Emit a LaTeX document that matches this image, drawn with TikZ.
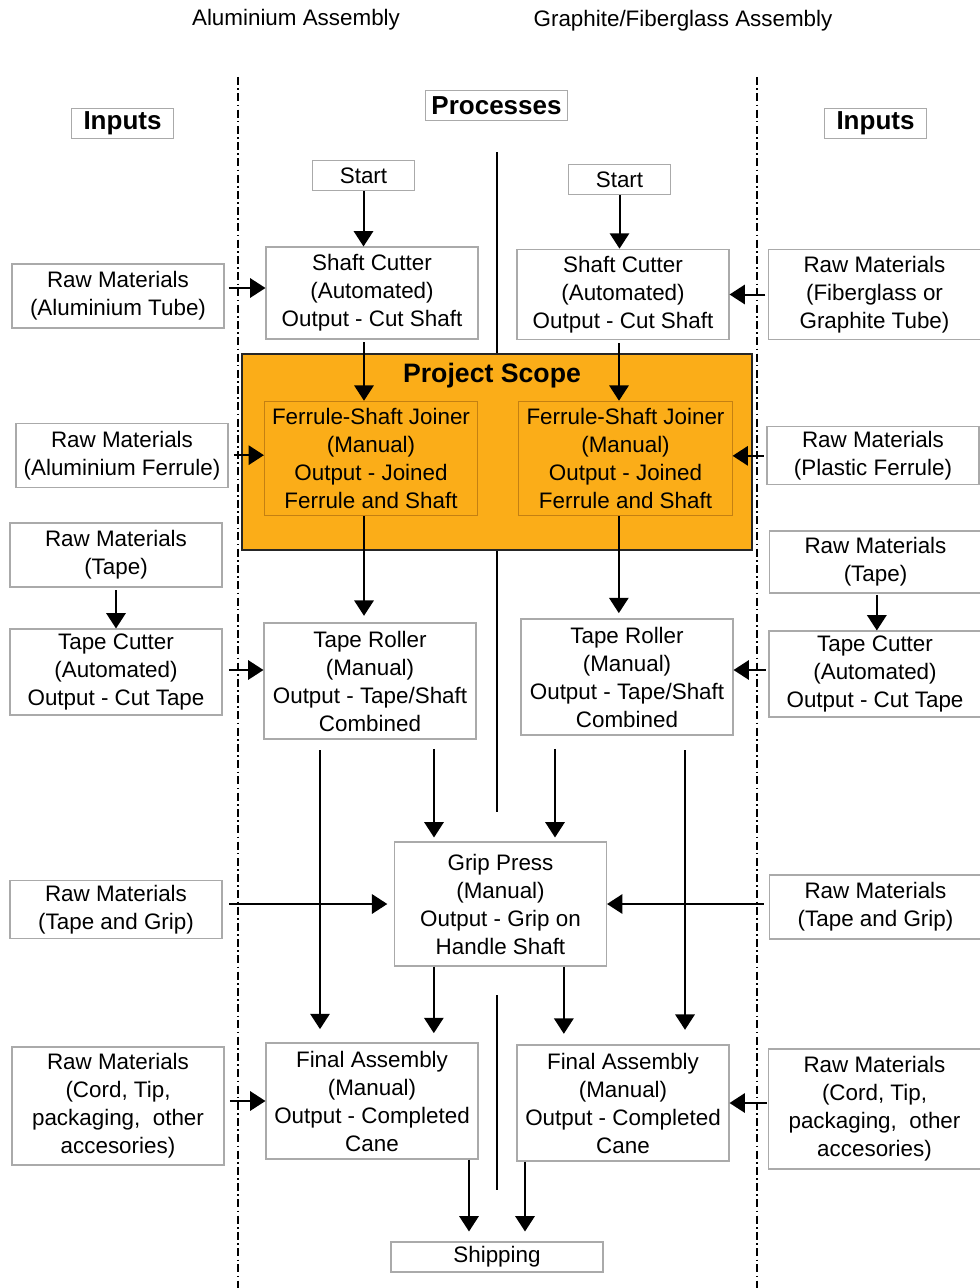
\documentclass[tikz,border=0pt]{standalone}
\usepackage{fontspec}
\setmainfont{Liberation Sans}
\usetikzlibrary{arrows.meta,positioning,calc}

\definecolor{scopefill}{RGB}{251,173,24}
\definecolor{scopeedge}{RGB}{196,128,18}
\definecolor{boxedge}{RGB}{170,170,170}

\begin{document}
\begin{tikzpicture}[
    x=0.75pt, y=-0.75pt,
    every node/.style={font=\fontsize{16.8}{21}\selectfont},
    box/.style={rectangle, draw=boxedge, line width=0.8pt, minimum width=159pt, minimum height=48pt, align=center, inner sep=1pt},
    head/.style={rectangle, draw=boxedge, line width=0.8pt, font=\fontsize{19.5}{22}\selectfont\bfseries, minimum height=23pt, inner sep=0pt},
    stage/.style={rectangle, draw=scopeedge, line width=0.6pt, minimum width=160pt, minimum height=86pt, align=center, inner sep=1pt},
    arrow/.style={-{Triangle[length=11.5pt,width=14.5pt]}, line width=1.5pt},
    divider/.style={dash pattern=on 6pt off 2.5pt on 1.2pt off 2.5pt, line width=0.9pt},
    spine/.style={line width=1.4pt}
]
\useasboundingbox (0,0) rectangle (980,1288);

% Titles
\node (alutitle) at (296,20) {Aluminium Assembly};
\node (gfttitle) at (683,21) {Graphite/Fiberglass Assembly};
\node[head, minimum width=77pt] (inL) at (122.5,123.5) {Inputs};
\node[head, minimum width=77pt] (inR) at (875.5,123.5) {Inputs};
\node[head, minimum width=106pt] (proc) at (496.5,105.5) {Processes};

% Dividers
\draw[divider] (238,77) -- (238,1288);
\draw[divider] (757,77) -- (757,1288);

% Project scope
\node[rectangle, draw=black!85, line width=1.5pt, fill=scopefill, minimum width=382.5pt, minimum height=147pt] (scope) at (497,452) {};
\node[font=\fontsize{20}{22}\selectfont\bfseries] (scopelabel) at (492,376) {Project Scope};

% Centre line
\draw[spine] (497,152) -- (scope.north);
\draw[spine] (scope.south) -- (497,812);
\draw[spine] (497,995) -- (497,1190);

% Processes
\node[box, minimum width=77pt, minimum height=23pt] (startA) at (363.5,175.5) {Start};
\node[box, minimum width=77pt, minimum height=23pt] (startB) at (619.5,179.5) {Start};
\node[box, minimum height=69pt] (cutA) at (372,293) {Shaft Cutter\\(Automated)\\Output - Cut Shaft};
\node[box, minimum height=68pt] (cutB) at (623,294.5) {Shaft Cutter\\(Automated)\\Output - Cut Shaft};
\node[stage] (joinA) at (371,458.5) {Ferrule-Shaft Joiner\\(Manual)\\Output - Joined\\Ferrule and Shaft};
\node[stage] (joinB) at (625.5,458.5) {Ferrule-Shaft Joiner\\(Manual)\\Output - Joined\\Ferrule and Shaft};
\node[box, minimum height=87pt] (rollA) at (370,681) {Tape Roller\\(Manual)\\Output - Tape/Shaft\\Combined};
\node[box, minimum height=87pt] (rollB) at (627,677) {Tape Roller\\(Manual)\\Output - Tape/Shaft\\Combined};
\node[box, minimum height=93pt] (grip) at (500.5,904) {Grip Press\\(Manual)\\Output - Grip on\\Handle Shaft};
\node[box, minimum height=87pt] (finA) at (372,1101) {Final Assembly\\(Manual)\\Output - Completed\\Cane};
\node[box, minimum height=87pt] (finB) at (623,1103) {Final Assembly\\(Manual)\\Output - Completed\\Cane};
\node[box, minimum height=22.5pt] (ship) at (497,1257) {Shipping};

% Inputs, left
\node[box] (rawtube) at (118,296) {Raw Materials\\(Aluminium Tube)};
\node[box] (rawferA) at (122,455.5) {Raw Materials\\(Aluminium Ferrule)};
\node[box] (tapeA) at (116,555) {Raw Materials\\(Tape)};
\node[box, minimum height=64.5pt] (tcutA) at (116,672) {Tape Cutter\\(Automated)\\Output - Cut Tape};
\node[box, minimum height=44pt] (gripA) at (116,909.5) {Raw Materials\\(Tape and Grip)};
\node[box, minimum height=88.5pt] (cordA) at (118,1106) {Raw Materials\\(Cord, Tip,\\packaging,\ \ other\\accesories)};

% Inputs, right
\node[box, minimum height=67pt] (rawgft) at (874.5,294.5) {Raw Materials\\(Fiberglass or\\Graphite Tube)};
\node[box, minimum height=44pt] (rawferB) at (873,455.5) {Raw Materials\\(Plastic Ferrule)};
\node[box, minimum height=46.5pt] (tapeB) at (875.5,562) {Raw Materials\\(Tape)};
\node[box, minimum height=64.5pt] (tcutB) at (875,674) {Tape Cutter\\(Automated)\\Output - Cut Tape};
\node[box] (gripB) at (875.5,907) {Raw Materials\\(Tape and Grip)};
\node[box, minimum height=90pt] (cordB) at (874.5,1109) {Raw Materials\\(Cord, Tip,\\packaging,\ \ other\\accesories)};

% Flow, left
\draw[arrow] (startA.south) -- (startA.south |- cutA.north);
\draw[arrow] ([xshift=-6pt,yshift=-2pt]cutA.south) -- ([xshift=-6pt]cutA.south |- joinA.north);
\draw[arrow] ([xshift=-5.25pt]joinA.south) -- ([xshift=-5.25pt,yshift=5pt]joinA.south |- rollA.north);
\draw[arrow] ([xshift=-37.5pt,yshift=-8pt]rollA.south) -- ([xshift=-37.5pt,yshift=10pt]rollA.south |- finA.north);
\draw[arrow] ([xshift=48pt,yshift=-7pt]rollA.south) -- ([xshift=48pt,yshift=3pt]rollA.south |- grip.north);
\draw[arrow] ([xshift=-50pt]grip.south) -- ([xshift=-50pt,yshift=7pt]grip.south |- finA.north);
\draw[arrow] ([xshift=72.75pt]finA.south) -- ([xshift=72.75pt,yshift=7.5pt]finA.south |- ship.north);

% Flow, right
\draw[arrow] (startB.south) -- (startB.south |- cutB.north);
\draw[arrow] ([xshift=-3pt,yshift=-2pt]cutB.south) -- ([xshift=-3pt]cutB.south |- joinB.north);
\draw[arrow] ([xshift=-5pt]joinB.south) -- ([xshift=-5pt,yshift=4pt]joinB.south |- rollB.north);
\draw[arrow] ([xshift=43.5pt,yshift=-11pt]rollB.south) -- ([xshift=43.5pt,yshift=11pt]rollB.south |- finB.north);
\draw[arrow] ([xshift=-54pt,yshift=-10pt]rollB.south) -- ([xshift=-54pt,yshift=3pt]rollB.south |- grip.north);
\draw[arrow] ([xshift=47.5pt]grip.south) -- ([xshift=47.5pt,yshift=8pt]grip.south |- finB.north);
\draw[arrow] ([xshift=-73.5pt]finB.south) -- ([xshift=-73.5pt,yshift=7.5pt]finB.south |- ship.north);

% Inputs to processes
\draw[arrow] ([xshift=3pt,yshift=3.75pt]rawtube.east |- cutA.west) -- ([yshift=3.75pt]cutA.west);
\draw[arrow] ([xshift=4pt,yshift=2.5pt]rawferA.east |- joinA.west) -- ([yshift=2.5pt]joinA.west);
\draw[arrow] ([yshift=-2pt]tapeA.south) -- (tapeA.south |- tcutA.north);
\draw[arrow] ([xshift=5pt,yshift=8.25pt]tcutA.east |- rollA.west) -- ([yshift=8.25pt]rollA.west);
\draw[arrow] ([xshift=5pt]gripA.east |- grip.west) -- ([xshift=-5pt]grip.west);
\draw[arrow] ([xshift=4pt]cordA.east |- finA.west) -- (finA.west);

\draw[arrow] ([xshift=-2pt]rawgft.west |- cutB.east) -- (cutB.east);
\draw[arrow] ([xshift=-2pt,yshift=2pt]rawferB.west |- joinB.east) -- ([yshift=2pt]joinB.east);
\draw[arrow] ([xshift=1pt,yshift=-1pt]tapeB.south) -- ([xshift=1pt]tapeB.south |- tcutB.north);
\draw[arrow] ([xshift=-2pt,yshift=5.25pt]tcutB.west |- rollB.east) -- ([yshift=5.25pt]rollB.east);
\draw[arrow] ([xshift=-4pt]gripB.west |- grip.east) -- (grip.east);
\draw[arrow] ([xshift=-1pt]cordB.west |- finB.east) -- (finB.east);

\end{tikzpicture}
\end{document}
